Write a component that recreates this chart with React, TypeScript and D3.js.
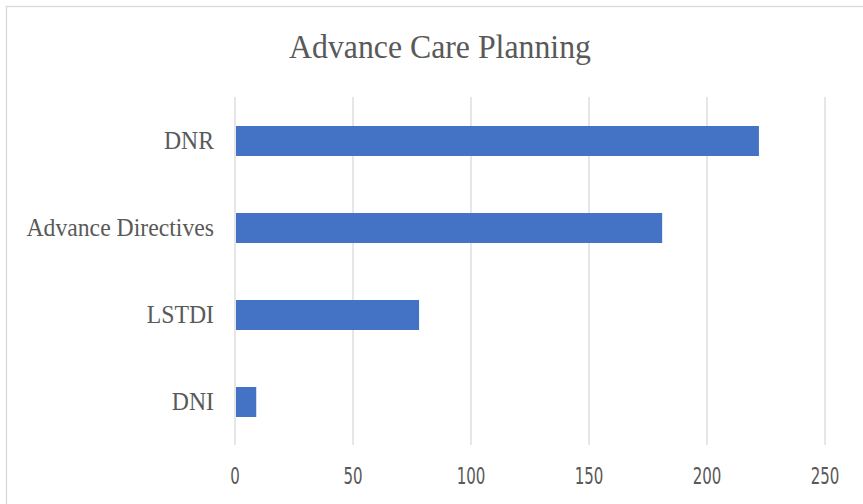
import React from "react";
import * as d3 from "d3";

const categories = ["DNR", "Advance Directives", "LSTDI", "DNI"];
const values = [222, 181, 78, 9];
const xTicks = [0, 50, 100, 150, 200, 250];
const title = "Advance Care Planning";

const W = 863;
const H = 504;
const plot = { left: 235, right: 825, top: 97, bottom: 445 };

export default function App() {
  const x = d3.scaleLinear().domain([0, 250]).range([plot.left, plot.right]);
  const y = d3
    .scaleBand<string>()
    .domain(categories)
    .range([plot.top, plot.bottom])
    .paddingInner(0.655)
    .paddingOuter(0.3275);
  const step = y.step();
  const barH = 30;

  return (
    <svg
      width={W}
      height={H}
      style={{ position: "absolute", left: 0, top: 0, display: "block", background: "#fff" }}
    >
      <rect x={0} y={0} width={W} height={H} fill="#fff" />
      <rect x={6.5} y={6.5} width={W + 20} height={H + 20} fill="none" stroke="#d9d9d9" strokeWidth={1.3} />
      <text
        transform="translate(440,58) scale(1,1.05)"
        textAnchor="middle"
        fontFamily="'Liberation Serif', 'Times New Roman', serif"
        fontSize={31.8}
        fill="#595959"
      >
        {title}
      </text>
      {xTicks.map((t) => (
        <g key={t}>
          <line x1={x(t)} x2={x(t)} y1={plot.top} y2={plot.bottom} stroke="#d9d9d9" strokeWidth={1.3} />
          <text
            transform={`translate(${x(t)},484) scale(0.76,1.02)`}
            textAnchor="middle"
            fontFamily="'DejaVu Sans Condensed', 'DejaVu Sans', sans-serif"
            fontSize={22}
            fill="#595959"
          >
            {t}
          </text>
        </g>
      ))}
      {categories.map((c, i) => {
        const cy = (y(c) as number) - (step - y.bandwidth()) / 2 + step / 2;
        return (
          <g key={c}>
            <rect
              x={x(0) + 1}
              y={cy - barH / 2 + 0.5}
              width={x(values[i]) - x(0) - 1}
              height={barH}
              fill="#4472c4"
            />
            <text
              transform={`translate(214,${cy + 8}) scale(0.98,1.04)`}
              textAnchor="end"
              fontFamily="'Liberation Serif', 'Times New Roman', serif"
              fontSize={24.2}
              fill="#595959"
            >
              {c}
            </text>
          </g>
        );
      })}
    </svg>
  );
}
